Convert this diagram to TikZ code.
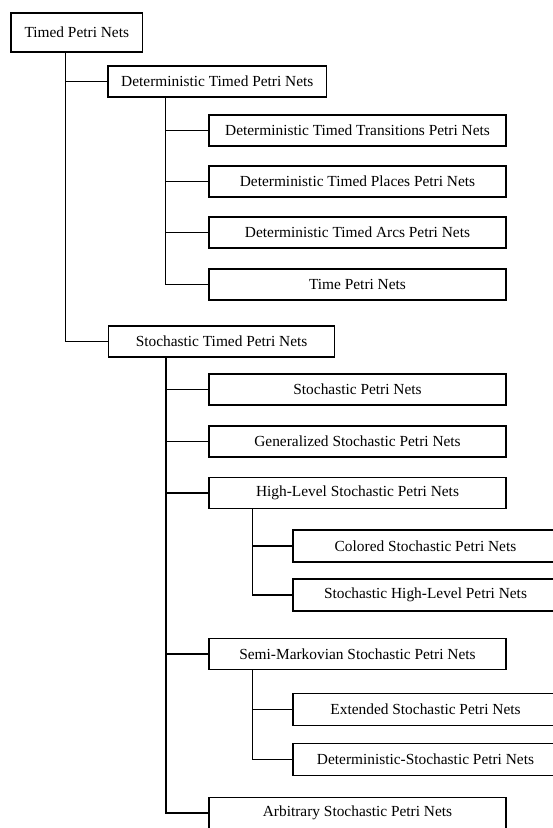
\documentclass[tikz,border=0pt]{standalone}
\usepackage{fontspec}
\setmainfont{Liberation Serif}
\begin{document}
\begin{tikzpicture}[
        x=0.65pt, y=-0.65pt,
        root/.style={draw, line width=1pt, minimum width=85.7pt, minimum height=25.5pt, inner sep=0pt},
        family/.style={draw, line width=1pt, minimum height=20.2pt, inner sep=0pt},
        member/.style={draw, line width=1pt, minimum width=193pt, minimum height=20.2pt, inner sep=0pt},
        variant/.style={draw, line width=1pt, minimum width=172pt, minimum height=21pt, inner sep=0pt},
        link/.style={line width=1pt}
    ]
        \useasboundingbox (0,0) rectangle (553,828);
        \clip (0,0) rectangle (553,828);

        \node[root] (tpn) at (76.8,32.4) {Timed Petri Nets};

        \node[family, minimum width=142pt] (dtpn) at (217.3,81.5) {Deterministic Timed Petri Nets};
        \node[member] (dttpn) at (357.5,130.5) {Deterministic Timed Transitions Petri Nets};
        \node[member] (dtppn) at (357.5,181.5) {Deterministic Timed Places Petri Nets};
        \node[member] (dtapn) at (357.5,232.5) {Deterministic Timed Arcs Petri Nets};
        \node[member] (timepn) at (357.5,284.5) {Time Petri Nets};

        \node[family, minimum width=147pt] (stpn) at (221.6,341.5) {Stochastic Timed Petri Nets};
        \node[member] (spn) at (357.5,389.5) {Stochastic Petri Nets};
        \node[member] (gspn) at (357.5,441.5) {Generalized Stochastic Petri Nets};
        \node[member] (hlspn) at (357.5,493) {High-Level Stochastic Petri Nets};
        \node[variant] (cspn) at (425.5,546) {Colored Stochastic Petri Nets};
        \node[variant] (shlpn) at (425.5,595) {Stochastic High-Level Petri Nets};
        \node[member] (smspn) at (357.5,654) {Semi-Markovian Stochastic Petri Nets};
        \node[variant] (espn) at (425.5,709.5) {Extended Stochastic Petri Nets};
        \node[variant] (dspn) at (425.5,759.5) {Deterministic-Stochastic Petri Nets};
        \node[member] (aspn) at (357.5,813) {Arbitrary Stochastic Petri Nets};

        % trunk tops under each parent box
        \coordinate (tpnfoot) at (65.5,52);
        \coordinate (dtpnfoot) at (165.6,97);
        \coordinate (stpnfoot) at (166,357);
        \coordinate (hlfoot) at (252.6,509);
        \coordinate (smfoot) at (252.3,670);

        % each trunk runs down to its last child, the others branch off it
        \draw[link] (tpnfoot) |- (stpn.west);
        \draw[link] (tpnfoot |- dtpn.west) -- (dtpn.west);

        \draw[link] (dtpnfoot) |- (timepn.west);
        \foreach \kid in {dttpn, dtppn, dtapn}
            \draw[link] (dtpnfoot |- \kid.west) -- (\kid.west);

        \draw[link] (stpnfoot) |- (aspn.west);
        \foreach \kid in {spn, gspn, hlspn, smspn}
            \draw[link] (stpnfoot |- \kid.west) -- (\kid.west);

        \draw[link] (hlfoot) |- (shlpn.west);
        \draw[link] (hlfoot |- cspn.west) -- (cspn.west);

        \draw[link] (smfoot) |- (dspn.west);
        \draw[link] (smfoot |- espn.west) -- (espn.west);
    \end{tikzpicture}
\end{document}
